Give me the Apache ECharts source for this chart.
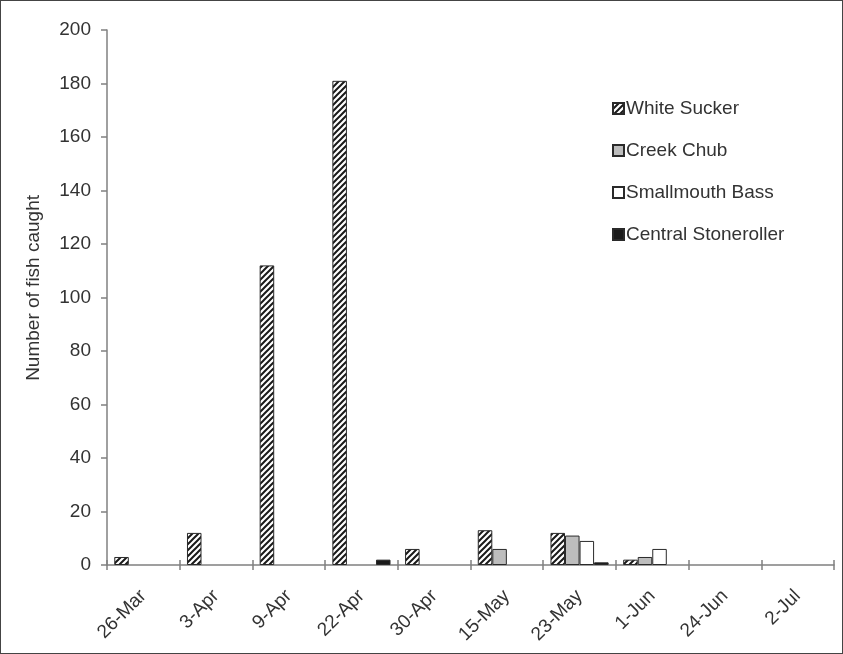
<!DOCTYPE html>
<html>
<head>
<meta charset="utf-8">
<script src="https://cdn.jsdelivr.net/npm/echarts@6/dist/echarts.min.js"></script>
<style>
html,body{margin:0;padding:0;background:#fff;}
#chart{width:843px;height:654px;position:relative;}
#frame{position:absolute;left:0;top:0;width:843px;height:654px;box-sizing:border-box;border:1px solid #444;pointer-events:none;}
</style>
</head>
<body>
<div style="position:relative;width:843px;height:654px;">
<div id="chart"></div>
<div id="frame"></div>
</div>
<script>
const categories = ['26-Mar','3-Apr','9-Apr','22-Apr','30-Apr','15-May','23-May','1-Jun','24-Jun','2-Jul'];
const whiteSucker = [3, 12, 112, 181, 6, 13, 12, 2, 0, 0];
const creekChub = [0, 0, 0, 0, 0, 6, 11, 3, 0, 0];
const smallmouthBass = [0, 0, 0, 0, 0, 0, 9, 6, 0, 0];
const centralStoneroller = [0, 0, 0, 2, 0, 0, 1, 0, 0, 0];
const seriesNames = ['White Sucker','Creek Chub','Smallmouth Bass','Central Stoneroller'];
const yTicks = {min: 0, max: 200, interval: 20};

// hatch pattern
const T = 6;
const tile = document.createElement('canvas');
tile.width = T; tile.height = T;
const ctx = tile.getContext('2d');
ctx.fillStyle = '#ffffff';
ctx.fillRect(0,0,T,T);
ctx.strokeStyle = '#1a1a1a';
ctx.lineWidth = 2;
ctx.beginPath();
ctx.moveTo(-1,T+1); ctx.lineTo(T+1,-1);
ctx.moveTo(-T/2-1,T/2+1); ctx.lineTo(T/2+1,-T/2-1);
ctx.moveTo(T/2-1,T*1.5+1); ctx.lineTo(T*1.5+1,T/2-1);
ctx.stroke();
const hatch = {image: tile, repeat: 'repeat'};

const font = 'Liberation Sans, Arial, sans-serif';
const chart = echarts.init(document.getElementById('chart'));

function mkSeries(name, data, color) {
  return {
    name: name, type: 'bar',
    data: data.map(v => v === 0 ? {value: 0, itemStyle: {borderWidth: 0, opacity: 0}} : v),
    barGap: '0%', barCategoryGap: '20%',
    itemStyle: {color: color, borderColor: '#2a2a2a', borderWidth: 1},
    emphasis: {disabled: true},
    xAxisIndex: 0
  };
}

chart.setOption({
  animation: false,
  backgroundColor: '#fff',
  textStyle: {fontFamily: font},
  grid: {left: 107, right: 9, top: 30, bottom: 89, containLabel: false},
  legend: {
    orient: 'vertical', left: 607, top: 94,
    itemWidth: 11, itemHeight: 11, itemGap: 23,
    icon: 'rect',
    textStyle: {fontSize: 19, color: '#333', fontFamily: font, padding: [0,0,0,-3]},
    data: seriesNames
  },
  xAxis: [{
    type: 'category', data: categories, position: 'bottom',
    axisLine: {lineStyle: {color: '#808080', width: 1.5}},
    axisTick: {show: true, length: 5, alignWithLabel: false, lineStyle: {color: '#808080', width: 1.5}},
    axisLabel: {rotate: 45, fontSize: 19, color: '#333', margin: 28, interval: 0, fontFamily: font},
    splitLine: {show: false}
  }, {
    type: 'category', data: categories, position: 'bottom',
    axisLine: {show: false},
    axisTick: {show: true, inside: true, length: 5, lineStyle: {color: '#808080', width: 1.5}},
    axisLabel: {show: false},
    splitLine: {show: false}
  }],
  yAxis: {
    type: 'value', min: yTicks.min, max: yTicks.max, interval: yTicks.interval,
    axisLine: {show: true, lineStyle: {color: '#808080', width: 1.5}},
    axisTick: {show: true, length: 6, lineStyle: {color: '#808080', width: 1.5}},
    axisLabel: {fontSize: 19, color: '#333', margin: 16, fontFamily: font},
    splitLine: {show: false}
  },
  graphic: [{
    type: 'text', left: 24, top: 195,
    rotation: Math.PI / 2,
    style: {text: 'Number of fish caught', fontSize: 19, fill: '#333', fontFamily: font}
  }],
  series: [
    mkSeries(seriesNames[0], whiteSucker, hatch),
    mkSeries(seriesNames[1], creekChub, '#bdbdbd'),
    mkSeries(seriesNames[2], smallmouthBass, '#ffffff'),
    mkSeries(seriesNames[3], centralStoneroller, '#1a1a1a')
  ]
});
</script>
</body>
</html>
